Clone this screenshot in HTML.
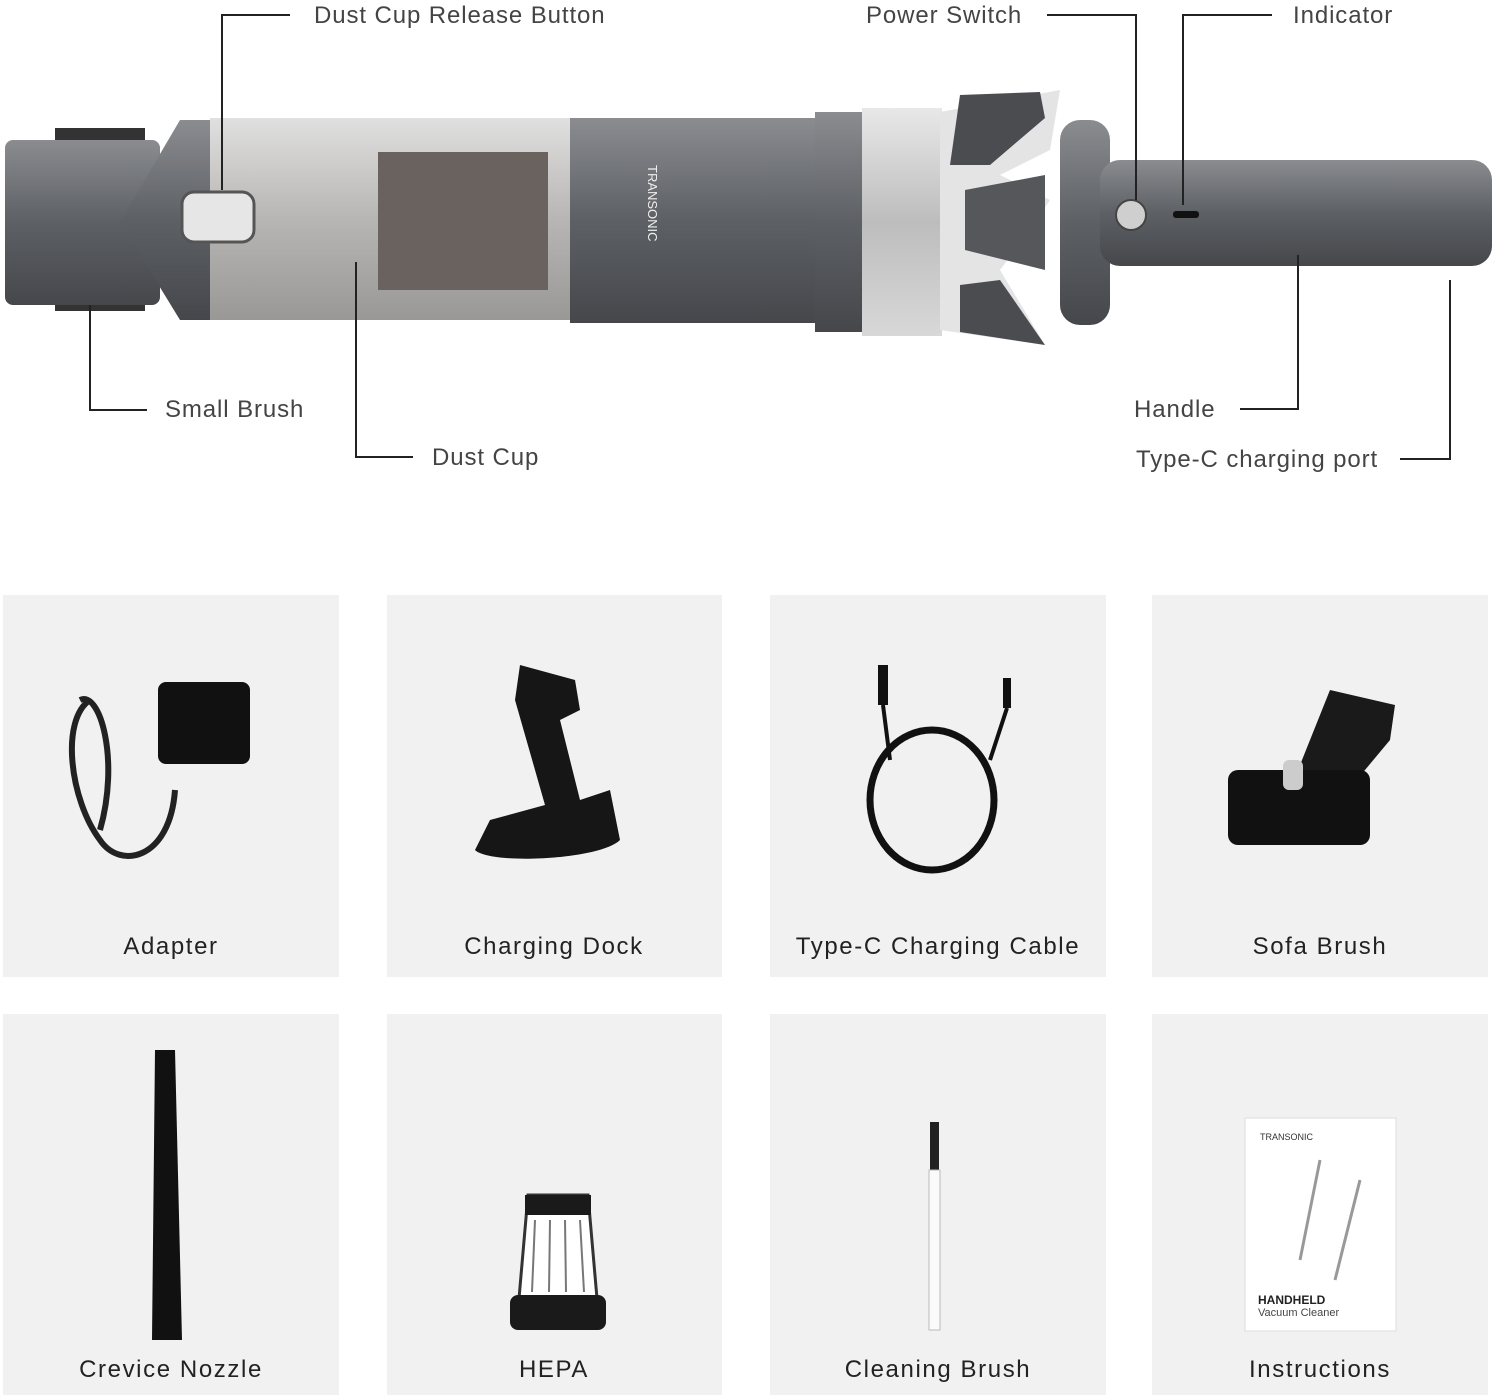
<!DOCTYPE html>
<html><head><meta charset="utf-8"><style>
html,body{margin:0;padding:0;background:#fff;}
svg{display:block}
text{font-family:"Liberation Sans",sans-serif;}
</style></head><body>
<svg width="1500" height="1399" viewBox="0 0 1500 1399" xmlns="http://www.w3.org/2000/svg">
<defs>
<linearGradient id="g" x1="0" y1="0" x2="0" y2="1"><stop offset="0" stop-color="#8a8c90"/><stop offset=".5" stop-color="#5d6064"/><stop offset="1" stop-color="#45474b"/></linearGradient>
<linearGradient id="s" x1="0" y1="0" x2="0" y2="1"><stop offset="0" stop-color="#e8e8e8"/><stop offset=".5" stop-color="#bdbdbd"/><stop offset="1" stop-color="#d8d8d8"/></linearGradient>
<linearGradient id="c" x1="0" y1="0" x2="0" y2="1"><stop offset="0" stop-color="#e0e0e0"/><stop offset=".5" stop-color="#b8b6b4"/><stop offset="1" stop-color="#9a9896"/></linearGradient>
</defs>
<rect x="55" y="128" width="90" height="16" fill="#333"/>
<rect x="55" y="295" width="90" height="16" fill="#333"/>
<rect x="5" y="140" width="155" height="165" rx="8" fill="url(#g)"/>
<polygon points="120,222 180,120 215,120 215,320 180,320" fill="url(#g)"/>
<rect x="210" y="118" width="365" height="202" fill="url(#c)"/>
<rect x="378" y="152" width="170" height="138" fill="#6a625e"/>
<rect x="182" y="192" width="72" height="50" rx="12" fill="#e6e6e6" stroke="#555" stroke-width="3"/>
<rect x="570" y="118" width="250" height="205" fill="url(#g)"/>
<rect x="815" y="112" width="60" height="220" fill="url(#g)"/>
<rect x="862" y="108" width="80" height="228" fill="url(#s)"/>
<polygon points="940,112 1060,90 1050,150 1000,175 1050,200 1030,230 1000,270 1045,345 940,330" fill="#e4e4e4"/>
<polygon points="960,95 1040,92 1045,118 990,165 950,165" fill="#4a4c50"/>
<polygon points="960,285 1000,280 1045,345 960,332" fill="#4a4c50"/>
<polygon points="965,190 1045,175 1045,270 965,250" fill="#55575b"/>
<rect x="1060" y="120" width="50" height="205" rx="20" fill="url(#g)"/>
<rect x="1100" y="160" width="392" height="106" rx="20" fill="url(#g)"/>
<circle cx="1131" cy="215" r="15" fill="#cfcfcf" stroke="#444" stroke-width="2"/>
<rect x="1173" y="211" width="26" height="7" rx="3" fill="#111"/>
<text x="648" y="165" font-size="13" fill="#eee" transform="rotate(90 648 165)">TRANSONIC</text>
<g stroke="#222" stroke-width="2" fill="none">
<polyline points="290,15 222,15 222,190"/>
<polyline points="1047,15 1136,15 1136,200"/>
<polyline points="1272,15 1183,15 1183,205"/>
<polyline points="90,305 90,410 147,410"/>
<polyline points="356,262 356,457 413,457"/>
<polyline points="1240,409 1298,409 1298,255"/>
<polyline points="1400,459 1450,459 1450,280"/>
</g>
<g font-size="24" fill="#444" letter-spacing="0.9">
<text x="314" y="23">Dust Cup Release Button</text>
<text x="866" y="23">Power Switch</text>
<text x="1293" y="23">Indicator</text>
<text x="165" y="417">Small Brush</text>
<text x="432" y="465">Dust Cup</text>
<text x="1134" y="417">Handle</text>
<text x="1136" y="467">Type-C charging port</text>
</g>
<g fill="#f1f1f1">
<rect x="3" y="595" width="336" height="382"/><rect x="387" y="595" width="335" height="382"/>
<rect x="770" y="595" width="336" height="382"/><rect x="1152" y="595" width="336" height="382"/>
<rect x="3" y="1014" width="336" height="381"/><rect x="387" y="1014" width="335" height="381"/>
<rect x="770" y="1014" width="336" height="381"/><rect x="1152" y="1014" width="336" height="381"/>
</g>
<rect x="158" y="682" width="92" height="82" rx="8" fill="#111"/>
<path d="M90,700 C60,720 70,800 100,840 C120,870 170,860 175,790" stroke="#222" stroke-width="6" fill="none"/>
<path d="M80,700 C100,690 120,760 100,830" stroke="#222" stroke-width="6" fill="none"/>
<path d="M520,665 L575,680 L580,710 L560,720 L580,800 L610,790 L620,840 C600,860 490,865 475,850 L490,820 L545,805 L515,700 Z" fill="#161616"/>
<rect x="878" y="665" width="10" height="40" fill="#111"/><rect x="1003" y="678" width="8" height="30" fill="#111"/>
<ellipse cx="932" cy="800" rx="62" ry="70" stroke="#111" stroke-width="7" fill="none"/>
<path d="M883,705 L890,760 M1007,708 L990,760" stroke="#111" stroke-width="4"/>
<polygon points="1330,690 1395,705 1390,740 1340,800 1340,835 1300,840 1290,790" fill="#1a1a1a"/>
<rect x="1228" y="770" width="142" height="75" rx="10" fill="#111"/>
<rect x="1283" y="760" width="20" height="30" rx="6" fill="#ccc"/>
<polygon points="155,1050 175,1050 182,1340 152,1340" fill="#111"/>
<path d="M528,1195 L588,1195 L598,1310 L518,1310 Z" fill="#fff" stroke="#333" stroke-width="3"/>
<rect x="525" y="1195" width="66" height="20" fill="#1a1a1a"/><rect x="510" y="1295" width="96" height="35" rx="8" fill="#1a1a1a"/>
<g stroke="#777" stroke-width="2"><line x1="535" y1="1220" x2="532" y2="1292"/><line x1="550" y1="1220" x2="549" y2="1292"/><line x1="565" y1="1220" x2="566" y2="1292"/><line x1="580" y1="1220" x2="584" y2="1292"/></g>
<rect x="930" y="1122" width="9" height="50" fill="#222"/>
<rect x="929" y="1170" width="11" height="160" fill="#fafafa" stroke="#bbb"/>
<rect x="1245" y="1118" width="151" height="213" fill="#fff" stroke="#ddd"/>
<text x="1260" y="1140" font-size="9" fill="#333">TRANSONIC</text>
<text x="1258" y="1304" font-size="12" font-weight="bold" fill="#222">HANDHELD</text>
<text x="1258" y="1316" font-size="11" fill="#444">Vacuum Cleaner</text>
<path d="M1320,1160 L1300,1260 M1360,1180 L1335,1280" stroke="#999" stroke-width="3"/>
<g font-size="24" fill="#222" text-anchor="middle" letter-spacing="1.6">
<text x="171" y="954">Adapter</text><text x="554" y="954">Charging Dock</text>
<text x="938" y="954">Type-C Charging Cable</text><text x="1320" y="954">Sofa Brush</text>
<text x="171" y="1377">Crevice Nozzle</text><text x="554" y="1377">HEPA</text>
<text x="938" y="1377">Cleaning Brush</text><text x="1320" y="1377">Instructions</text>
</g>
</svg>
</body></html>
